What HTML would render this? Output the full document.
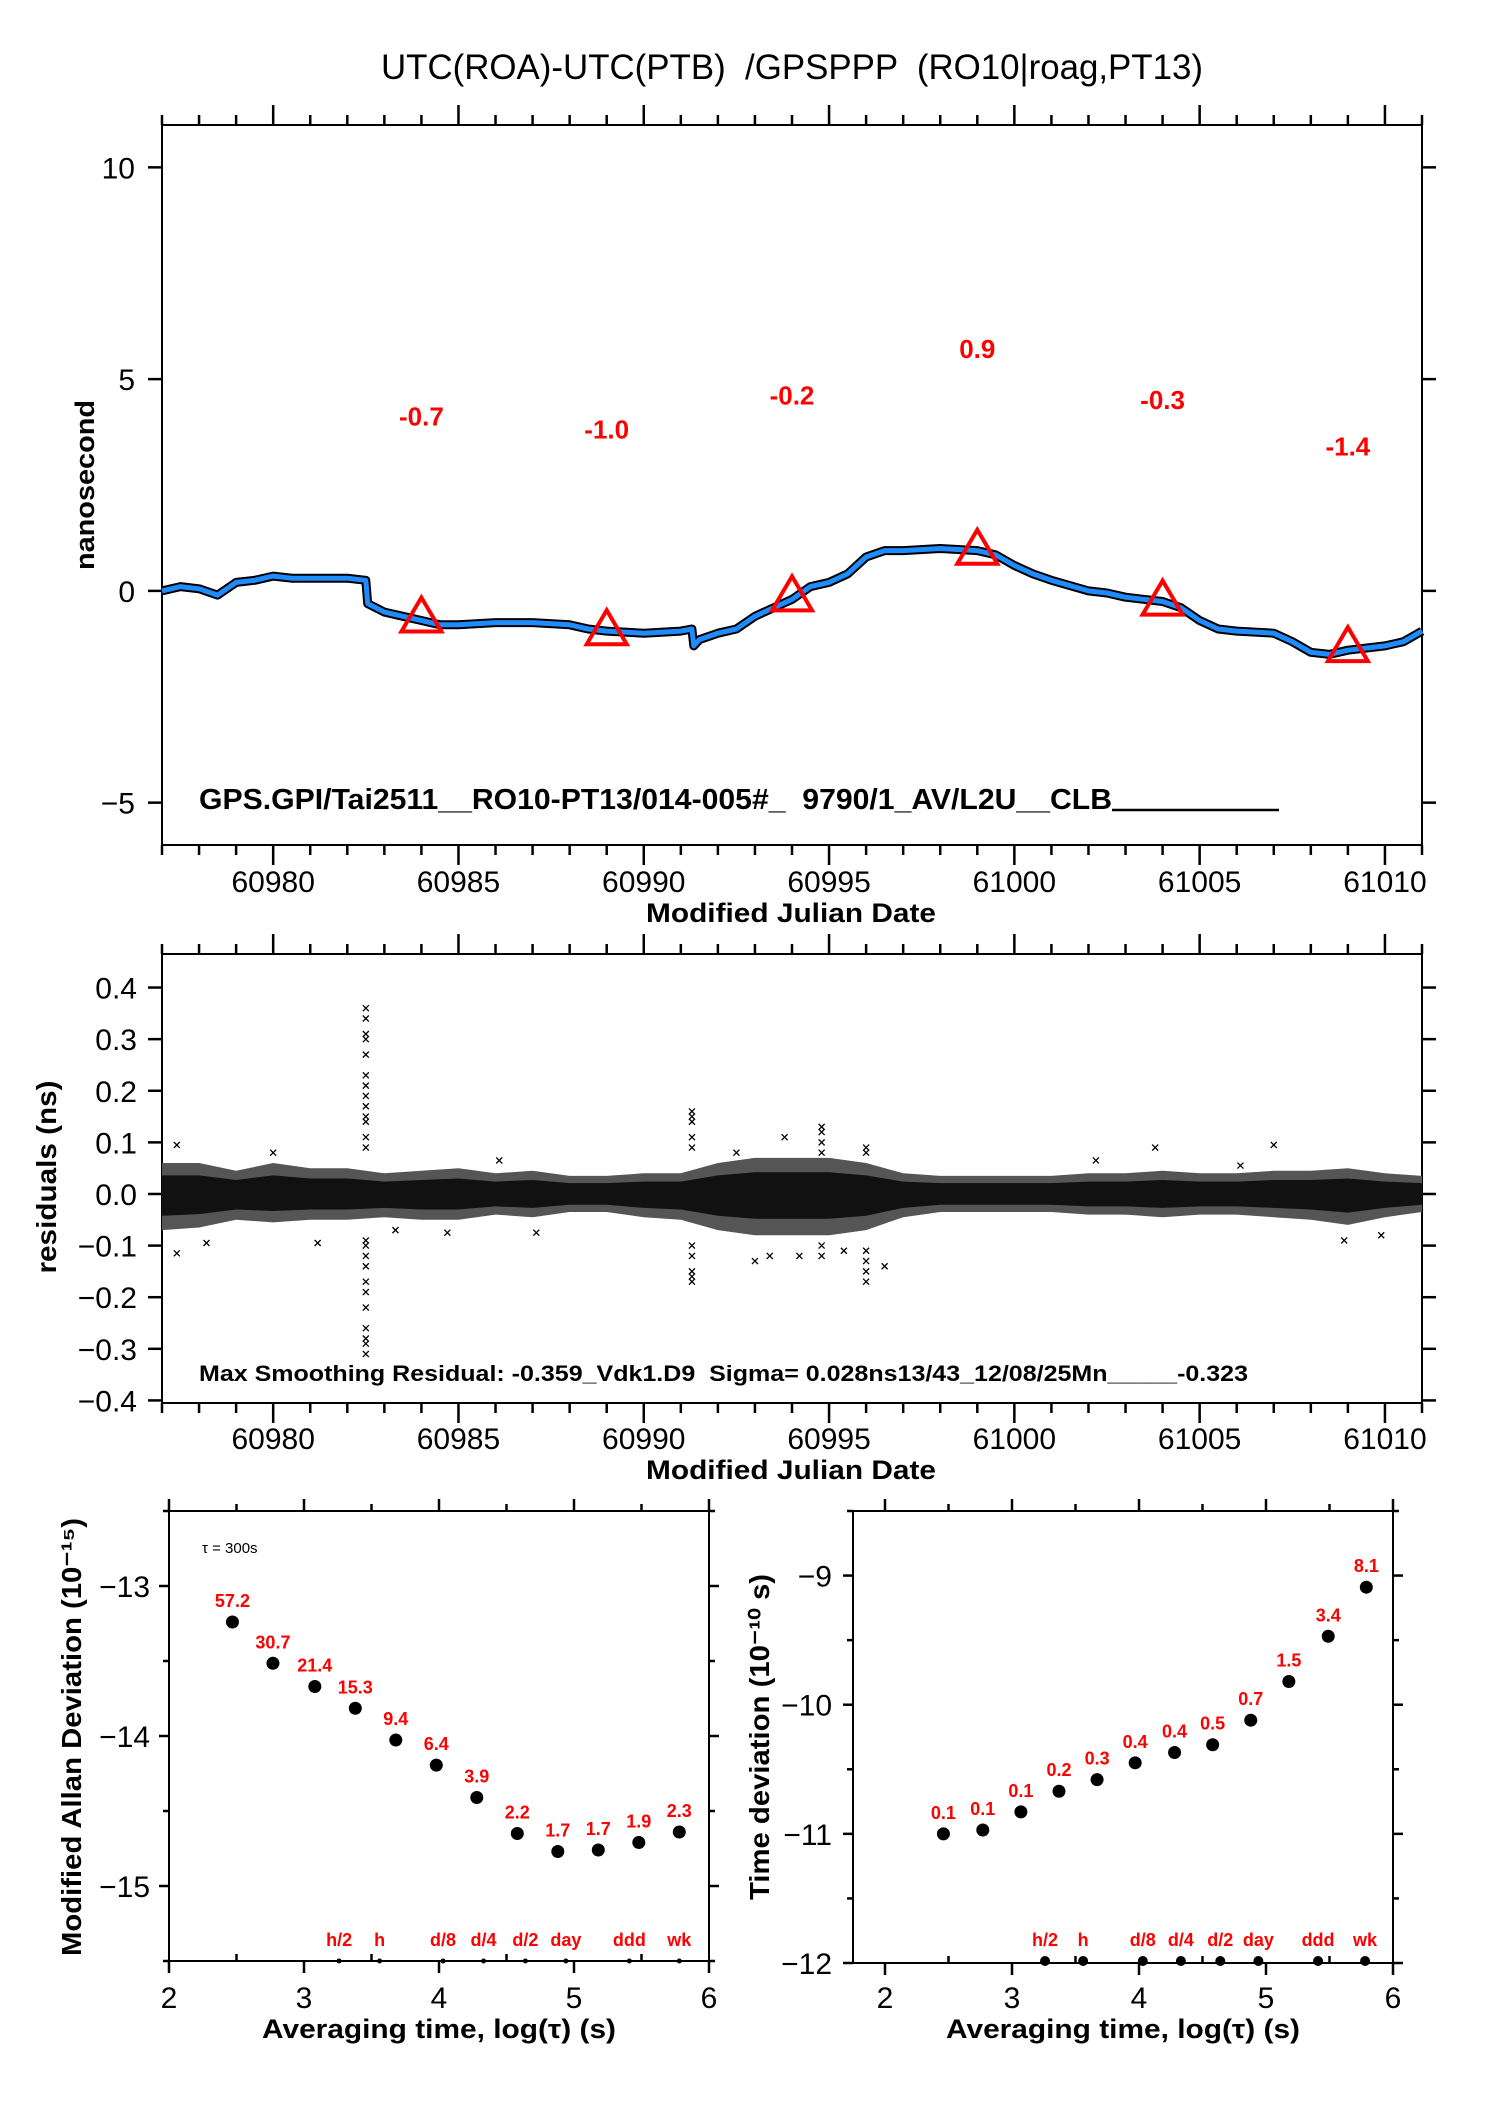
<!DOCTYPE html>
<html><head><meta charset="utf-8"><style>
html,body{margin:0;padding:0;background:#fff;}
svg{display:block;font-family:"Liberation Sans",Arial,sans-serif;}
</style></head><body>
<svg id="fig" xmlns="http://www.w3.org/2000/svg" width="1488" height="2105" viewBox="0 0 1488 2105">
<rect width="1488" height="2105" fill="#fff"/>
<text x="381" y="79" font-size="35" style="white-space:pre" textLength="822" lengthAdjust="spacingAndGlyphs">UTC(ROA)-UTC(PTB)  /GPSPPP  (RO10|roag,PT13)</text>
<g id="top"></g><g id="res"></g><g id="adev"></g><g id="tdev"></g>
</svg>
<script>
// ---------- data: top plot ----------
const topDays = [60977,60977.5,60978,60978.5,60979,60979.5,60980,60980.5,60981,60981.5,60982,60982.5,60982.55,60983,60983.5,60984,60984.5,60985,60986,60987,60988,60988.5,60989,60990,60991,60991.3,60991.35,60991.5,60992,60992.5,60993,60993.5,60994,60994.5,60995,60995.5,60996,60996.5,60997,60998,60999,60999.5,61000,61000.5,61001,61002,61002.5,61003,61004,61004.5,61005,61005.5,61006,61007,61007.5,61008,61008.5,61009,61010,61010.5,61011];
const topVals = [0.0,0.1,0.05,-0.1,0.2,0.25,0.35,0.3,0.3,0.3,0.3,0.25,-0.3,-0.5,-0.6,-0.7,-0.8,-0.8,-0.75,-0.75,-0.8,-0.9,-0.95,-1.0,-0.95,-0.9,-1.3,-1.15,-1.0,-0.9,-0.6,-0.4,-0.2,0.1,0.2,0.4,0.8,0.95,0.95,1.0,0.95,0.85,0.6,0.4,0.25,0.0,-0.05,-0.15,-0.25,-0.4,-0.7,-0.9,-0.95,-1.0,-1.2,-1.45,-1.5,-1.4,-1.3,-1.2,-0.95];
const triDays = [60984,60989,60994,60999,61004,61009];
const triVals = [-0.7,-1.0,-0.2,0.9,-0.3,-1.4];
const triLabels = ["-0.7","-1.0","-0.2","0.9","-0.3","-1.4"];
const topXTicks = [60980,60985,60990,60995,61000,61005,61010];
const topYTicks = [10,5,0,-5];
const topYLabels = ["10","5","0","\u22125"];
// ---------- data: residuals ----------
const resDays = [60977,60978,60979,60980,60981,60982,60983,60984,60985,60986,60987,60988,60989,60990,60991,60992,60993,60994,60995,60996,60997,60998,60999,61000,61001,61002,61003,61004,61005,61006,61007,61008,61009,61010,61011];
const resUpper = [0.06,0.06,0.045,0.06,0.05,0.05,0.04,0.045,0.05,0.04,0.045,0.035,0.035,0.04,0.04,0.06,0.07,0.07,0.07,0.06,0.04,0.035,0.035,0.035,0.035,0.04,0.04,0.045,0.04,0.04,0.045,0.045,0.05,0.04,0.035];
const resLower = [-0.07,-0.065,-0.05,-0.055,-0.05,-0.05,-0.045,-0.05,-0.05,-0.04,-0.045,-0.035,-0.035,-0.045,-0.05,-0.07,-0.08,-0.08,-0.08,-0.07,-0.045,-0.035,-0.035,-0.035,-0.035,-0.04,-0.04,-0.045,-0.04,-0.04,-0.045,-0.05,-0.06,-0.045,-0.035];
const outDays = [60982.5,60982.5,60982.5,60982.5,60982.5,60982.5,60982.5,60982.5,60982.5,60982.5,60982.5,60982.5,60982.5,60982.5,60982.5,60982.5,60982.5,60982.5,60982.5,60982.5,60982.5,60982.5,60982.5,60982.5,60991.3,60991.3,60991.3,60991.3,60991.3,60991.3,60991.3,60991.3,60991.3,60991.3,60996,60996,60996,60996,60996,60996,60994.8,60994.8,60994.8,60994.8,60994.8,60994.8,60977.4,60978.2,60981.2,60993.0,60993.4,60994.2,60996.5,61008.9,61007.0,60977.4,61003.8,60980.0,60983.3,60986.1,60987.1,60992.5,60993.8,60995.4,61002.2,61006.1,61009.9,60984.7];
const outVals = [0.36,0.34,0.31,0.30,0.27,0.23,0.21,0.19,0.17,0.15,0.14,0.11,0.09,-0.09,-0.10,-0.12,-0.14,-0.17,-0.19,-0.22,-0.26,-0.28,-0.29,-0.31,0.16,0.15,0.14,0.11,0.09,-0.10,-0.12,-0.15,-0.16,-0.17,0.09,0.08,-0.11,-0.13,-0.15,-0.17,0.13,0.12,0.10,0.08,-0.10,-0.12,-0.115,-0.095,-0.095,-0.13,-0.12,-0.12,-0.14,-0.09,0.095,0.095,0.09,0.08,-0.07,0.065,-0.075,0.08,0.11,-0.11,0.065,0.055,-0.08,-0.075];
const resYTicks = [0.4,0.3,0.2,0.1,0.0,-0.1,-0.2,-0.3,-0.4];
const resYLabels = ["0.4","0.3","0.2","0.1","0.0","\u22120.1","\u22120.2","\u22120.3","\u22120.4"];
// ---------- data: Allan ----------
const adevLog = [2.47,2.77,3.08,3.38,3.68,3.98,4.28,4.58,4.88,5.18,5.48,5.78];
const adevVals = [-13.24,-13.515,-13.67,-13.815,-14.027,-14.194,-14.41,-14.65,-14.77,-14.76,-14.71,-14.64];
const adevLabels = ["57.2","30.7","21.4","15.3","9.4","6.4","3.9","2.2","1.7","1.7","1.9","2.3"];
const tdevLog = [2.46,2.77,3.07,3.37,3.67,3.97,4.28,4.58,4.88,5.18,5.49,5.79];
const tdevVals = [-11.0,-10.97,-10.83,-10.67,-10.58,-10.45,-10.37,-10.31,-10.12,-9.82,-9.47,-9.09];
const tdevLabels = ["0.1","0.1","0.1","0.2","0.3","0.4","0.4","0.5","0.7","1.5","3.4","8.1"];
const markLog = [3.26,3.56,4.03,4.33,4.64,4.94,5.41,5.78];
const markLabels = ["h/2","h","d/8","d/4","d/2","day","ddd","wk"];
const logTicks = [2,3,4,5,6];

const NS="http://www.w3.org/2000/svg";
function mk(parent, tag, attrs, name, text){
  const el=document.createElementNS(NS,tag);
  for(const k in attrs) el.setAttribute(k,attrs[k]);
  
  
  if(text!==undefined) el.textContent=text;
  parent.appendChild(el);
  return el;
}
function line(p,x1,y1,x2,y2,name,w,c){return mk(p,'line',{x1,y1,x2,y2,stroke:c||'#000','stroke-width':w||2},name);}

// ===== TOP PLOT =====
const gT=document.getElementById('top');
const TL=162,TR=1422,TT=125,TB=845;
const xT=d=>TL+(d-60977)*(TR-TL)/34;
const yT=v=>TT+(11-v)*(TB-TT)/17;
mk(gT,'rect',{x:TL,y:TT,width:TR-TL,height:TB-TT,fill:'none',stroke:'#000','stroke-width':2},'top-plot-frame');
for(let d=60977;d<=61011;d++){
  const maj=d%5===0, L=maj?20:10;
  line(gT,xT(d),TT,xT(d),TT-L,'top-x-tick-top',2.5);
  line(gT,xT(d),TB,xT(d),TB+L,'top-x-tick-bottom',2.5);
}
topXTicks.forEach(d=>{mk(gT,'text',{x:xT(d),y:892,'font-size':30,'text-anchor':'middle'},'top-x-tick-label',String(d));});
topYTicks.forEach((v,i)=>{
  line(gT,TL-14,yT(v),TL,yT(v),'top-y-tick',2.5);
  line(gT,TR,yT(v),TR+14,yT(v),'top-y-tick-right',2.5);
  mk(gT,'text',{x:135,y:yT(v)+11,'font-size':30,'text-anchor':'end'},'top-y-tick-label',topYLabels[i]);
});
mk(gT,'text',{x:646,y:922,'font-size':27,'font-weight':'bold',textLength:290,lengthAdjust:'spacingAndGlyphs'},'top-x-axis-title','Modified Julian Date');
mk(gT,'text',{x:0,y:0,'font-size':27,'font-weight':'bold','text-anchor':'middle',transform:'translate(94,485) rotate(-90)',textLength:170,lengthAdjust:'spacingAndGlyphs'},'top-y-axis-title','nanosecond');
const pts=topDays.map((d,i)=>xT(d).toFixed(1)+','+yT(topVals[i]).toFixed(1)).join(' ');
mk(gT,'polyline',{points:pts,fill:'none',stroke:'#000','stroke-width':9,'stroke-linejoin':'round'},'raw-series-line');
mk(gT,'polyline',{points:pts,fill:'none',stroke:'#1e8cff','stroke-width':5,'stroke-linejoin':'round'},'smoothed-series-line');
triDays.forEach((d,i)=>{
  const cx=xT(d), cy=yT(triVals[i]);
  mk(gT,'polygon',{points:`${cx},${cy-23} ${cx-20},${cy+11} ${cx+20},${cy+11}`,fill:'none',stroke:'#ff0000','stroke-width':4},'sample-triangle');
  mk(gT,'text',{x:cx,y:yT(triVals[i]+4.6),'font-size':26,'font-weight':'bold',fill:'#ff0000','text-anchor':'middle'},'sample-value-label',triLabels[i]);
});
mk(gT,'text',{x:199,y:809,'font-size':29,'font-weight':'bold',style:'white-space:pre',textLength:913,lengthAdjust:'spacingAndGlyphs'},'top-annotation','GPS.GPI/Tai2511__RO10-PT13/014-005#_  9790/1_AV/L2U__CLB');
line(gT,1112,810,1279,810,'annotation-underline',2.5);

// ===== RESIDUALS =====
const gR=document.getElementById('res');
const RT=954,RB=1403;
const yR=v=>RT+(0.465-v)*(RB-RT)/0.87;
mk(gR,'rect',{x:TL,y:RT,width:TR-TL,height:RB-RT,fill:'none',stroke:'#000','stroke-width':2},'residual-plot-frame');
for(let d=60977;d<=61011;d++){
  const maj=d%5===0, L=maj?20:10;
  line(gR,xT(d),RT,xT(d),RT-L,'res-x-tick-top',2.5);
  line(gR,xT(d),RB,xT(d),RB+L,'res-x-tick-bottom',2.5);
}
topXTicks.forEach(d=>{mk(gR,'text',{x:xT(d),y:1449,'font-size':30,'text-anchor':'middle'},'res-x-tick-label',String(d));});
resYTicks.forEach((v,i)=>{
  line(gR,TL-14,yR(v),TL,yR(v),'res-y-tick',2.5);
  line(gR,TR,yR(v),TR+14,yR(v),'res-y-tick-right',2.5);
  mk(gR,'text',{x:137,y:yR(v)+11,'font-size':30,'text-anchor':'end'},'res-y-tick-label',resYLabels[i]);
});
mk(gR,'text',{x:646,y:1479,'font-size':27,'font-weight':'bold',textLength:290,lengthAdjust:'spacingAndGlyphs'},'res-x-axis-title','Modified Julian Date');
mk(gR,'text',{x:0,y:0,'font-size':28,'font-weight':'bold','text-anchor':'middle',transform:'translate(56,1177) rotate(-90)',textLength:193,lengthAdjust:'spacingAndGlyphs'},'res-y-axis-title','residuals (ns)');
let up=resDays.map((d,i)=>xT(d).toFixed(1)+','+yR(resUpper[i]).toFixed(1));
let lo=resDays.map((d,i)=>xT(d).toFixed(1)+','+yR(resLower[i]).toFixed(1)).reverse();
mk(gR,'polygon',{points:up.concat(lo).join(' '),fill:'#555'},'residual-scatter-outer');
let up2=resDays.map((d,i)=>xT(d).toFixed(1)+','+yR(resUpper[i]*0.6).toFixed(1));
let lo2=resDays.map((d,i)=>xT(d).toFixed(1)+','+yR(resLower[i]*0.6).toFixed(1)).reverse();
mk(gR,'polygon',{points:up2.concat(lo2).join(' '),fill:'#111'},'residual-scatter-core');
outDays.forEach((d,i)=>{
  const x=xT(d), y=yR(outVals[i]);
  mk(gR,'path',{d:`M${x-3},${y-3}L${x+3},${y+3}M${x+3},${y-3}L${x-3},${y+3}`,stroke:'#000','stroke-width':1.3},'residual-outlier');
});
mk(gR,'text',{x:199,y:1381,'font-size':22,'font-weight':'bold',style:'white-space:pre',textLength:1049,lengthAdjust:'spacingAndGlyphs'},'residual-annotation','Max Smoothing Residual: -0.359_Vdk1.D9  Sigma= 0.028ns13/43_12/08/25Mn_____-0.323');

// ===== STABILITY PLOTS =====
function stab(g, cfg){
  const {L,R,T,B,x0,x1,y0,y1,name}=cfg;
  const X=l=>L+(l-x0)*(R-L)/(x1-x0);
  const Y=v=>T+(y0-v)*(B-T)/(y0-y1);
  mk(g,'rect',{x:L,y:T,width:R-L,height:B-T,fill:'none',stroke:'#000','stroke-width':2},name+'-frame');
  for(let l=2;l<=6;l+=0.5){
    const maj=Number.isInteger(l);
    line(g,X(l),T,X(l),T-(maj?12:7),name+'-x-tick-top',2.5);
    line(g,X(l),B,X(l),B-(maj?0:7),name+'-x-tick-bottom',2.5);
    line(g,X(l),B,X(l),B+(maj?12:0),name+'-x-tick-bottom-out',2.5);
  }
  logTicks.forEach(l=>{mk(g,'text',{x:X(l),y:2008,'font-size':30,'text-anchor':'middle'},name+'-x-tick-label',String(l));});
  for(let v=Math.ceil(y1*2)/2; v<=y0+1e-9; v+=0.5){
    const maj=Number.isInteger(v);
    line(g,L-(maj?10:6),Y(v),L,Y(v),name+'-y-tick',2.5);
    line(g,R,Y(v),R+(maj?10:6),Y(v),name+'-y-tick-right',2.5);
    if(maj) mk(g,'text',{x:cfg.labX,y:Y(v)+11,'font-size':30,'text-anchor':'end'},name+'-y-tick-label','\u2212'+Math.abs(v));
  }
  mk(g,'text',{x:(L+R)/2+cfg.titleShift,y:2038,'font-size':27,'font-weight':'bold','text-anchor':'middle',textLength:354,lengthAdjust:'spacingAndGlyphs'},name+'-x-axis-title','Averaging time, log(\u03c4) (s)');
  return {X,Y};
}
const gA=document.getElementById('adev');
const A=stab(gA,{L:169,R:709,T:1511,B:1961,x0:2,x1:6,y0:-12.5,y1:-15.5,name:'adev',labX:150,titleShift:0});
adevLog.forEach((l,i)=>{
  mk(gA,'circle',{cx:A.X(l),cy:A.Y(adevVals[i]),r:6.5,fill:'#000'},'adev-point');
  mk(gA,'text',{x:A.X(l),y:A.Y(adevVals[i])-15,'font-size':18,'font-weight':'bold',fill:'#ff0000','text-anchor':'middle'},'adev-point-label',adevLabels[i]);
});
markLog.forEach((l,i)=>{
  mk(gA,'circle',{cx:A.X(l),cy:1961,r:2.5,fill:'#000'},'adev-interval-marker');
  mk(gA,'text',{x:A.X(l),y:1946,'font-size':18,'font-weight':'bold',fill:'#ff0000','text-anchor':'middle'},'adev-interval-label',markLabels[i]);
});
mk(gA,'text',{x:202,y:1553,'font-size':15},'tau-note','\u03c4 = 300s');
mk(gA,'text',{x:0,y:0,'font-size':28,'font-weight':'bold','text-anchor':'middle',transform:'translate(81,1737) rotate(-90)',textLength:438,lengthAdjust:'spacingAndGlyphs'},'adev-y-axis-title','Modified Allan Deviation (10\u207b\u00b9\u2075)');

const gD=document.getElementById('tdev');
const D=stab(gD,{L:853,R:1393,T:1511,B:1963,x0:1.748,x1:6,y0:-8.5,y1:-12,name:'tdev',labX:832,titleShift:0});
tdevLog.forEach((l,i)=>{
  mk(gD,'circle',{cx:D.X(l),cy:D.Y(tdevVals[i]),r:6.5,fill:'#000'},'tdev-point');
  mk(gD,'text',{x:D.X(l),y:D.Y(tdevVals[i])-15,'font-size':18,'font-weight':'bold',fill:'#ff0000','text-anchor':'middle'},'tdev-point-label',tdevLabels[i]);
});
markLog.forEach((l,i)=>{
  mk(gD,'circle',{cx:D.X(l),cy:1961,r:5,fill:'#000'},'tdev-interval-marker');
  mk(gD,'text',{x:D.X(l),y:1946,'font-size':18,'font-weight':'bold',fill:'#ff0000','text-anchor':'middle'},'tdev-interval-label',markLabels[i]);
});
mk(gD,'text',{x:0,y:0,'font-size':28,'font-weight':'bold','text-anchor':'middle',transform:'translate(769,1737) rotate(-90)',textLength:326,lengthAdjust:'spacingAndGlyphs'},'tdev-y-axis-title','Time deviation (10\u207b\u00b9\u2070 s)');
</script>
</body></html>
